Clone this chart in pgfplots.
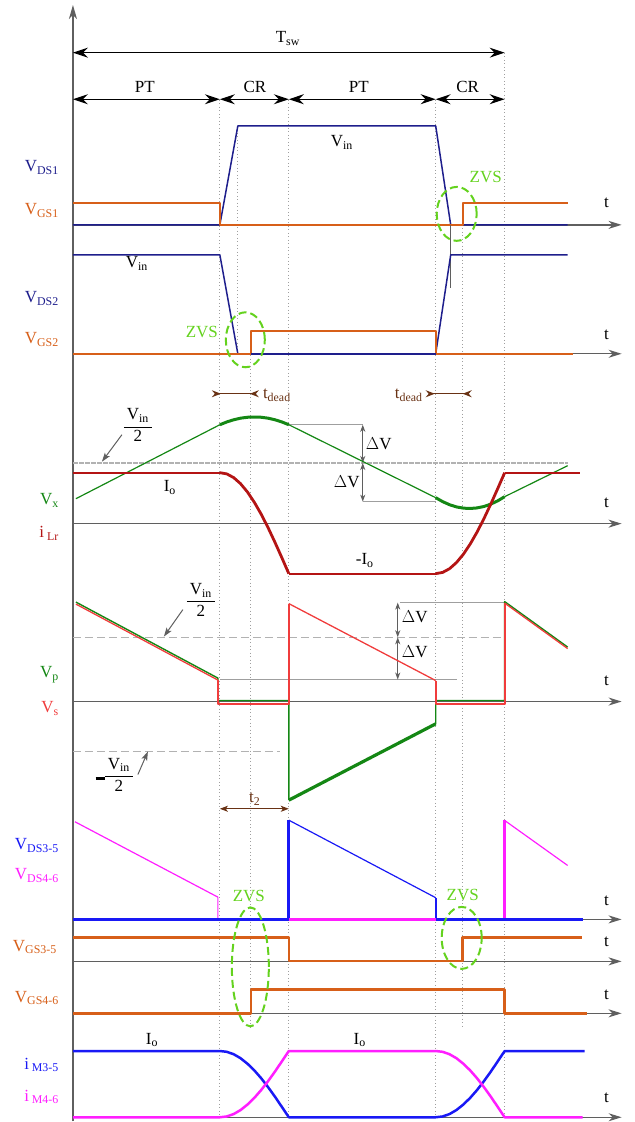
\documentclass[border=0pt]{standalone}
\usepackage{fontspec}
\setmainfont{Liberation Serif}
\usepackage{pgfplots}
\pgfplotsset{compat=1.18}
\usetikzlibrary{arrows.meta}

\definecolor{vds}{RGB}{30,30,140}
\definecolor{vgs}{RGB}{215,95,25}
\definecolor{ilr}{RGB}{180,20,20}
\definecolor{vx}{RGB}{20,135,20}
\definecolor{vs}{RGB}{240,60,60}
\definecolor{bl}{RGB}{25,25,245}
\definecolor{mg}{RGB}{255,30,255}
\definecolor{zvs}{RGB}{100,210,30}
\definecolor{brn}{RGB}{105,50,20}
\definecolor{ax}{RGB}{95,95,95}

\newcommand{\halfvin}{\begin{tabular}{@{\hspace{3pt}}c@{\hspace{3pt}}}V\textsubscript{in}\\[1pt]\hline\rule{0pt}{15pt}2\end{tabular}}

\tikzset{
  lab/.style={font=\fontsize{17}{20}\selectfont, inner sep=0pt},
  bigb/.style={{Stealth[length=15pt,width=10pt,inset=5pt]}-{Stealth[length=15pt,width=10pt,inset=5pt]}},
  axarr/.style={ax, line width=1.3pt, -{Stealth[length=13pt,width=8pt,inset=4pt]}},
  sm/.style={{Stealth[length=7pt,width=5pt,inset=2pt]}-{Stealth[length=7pt,width=5pt,inset=2pt]}},
  dots/.style={gray!75, line width=0.9pt, dash pattern=on 1pt off 2.5pt},
  ell/.style={zvs, line width=2pt, dash pattern=on 8pt off 4pt},
}

\begin{document}
\begin{tikzpicture}
\begin{axis}[
  width=635pt, height=1122pt, scale only axis,
  xmin=0, xmax=635, ymin=0, ymax=1122, y dir=reverse,
  hide axis, clip=false, no markers,
  every axis plot/.append style={line join=round},
]
% the drawing area
\path (rel axis cs:0,0) rectangle (rel axis cs:1,1);

% guide lines of the switching instants
\addplot[dots] coordinates {(220,100) (220,1118)};
\addplot[dots] coordinates {(238,126) (238,354)};
\addplot[dots] coordinates {(251,331) (251,1030)};
\addplot[dots] coordinates {(289,100) (289,1118)};
\addplot[dots] coordinates {(436,100) (436,1118)};
\addplot[dots] coordinates {(463,225) (463,1030)};
\addplot[dots] coordinates {(505,53) (505,1118)};

% time axes
\addplot[ax, line width=1.5pt, -{Stealth[length=14pt,width=8pt,inset=4pt]}] coordinates {(73,1122) (73,5)};
\addplot[axarr] coordinates {(73,225) (622,225)};
\addplot[axarr] coordinates {(73,354) (622,354)};
\addplot[axarr] coordinates {(73,524) (622,524)};
\addplot[axarr] coordinates {(73,702) (622,702)};
\addplot[axarr] coordinates {(73,920) (622,920)};
\addplot[axarr] coordinates {(73,962) (622,962)};
\addplot[axarr] coordinates {(73,1014) (622,1014)};
\addplot[axarr] coordinates {(73,1118) (622,1118)};

% switching period and intervals
\addplot[black, line width=1.2pt, bigb] coordinates {(73,52.7) (505,52.7)};
\addplot[black, line width=1.2pt, bigb] coordinates {(73,99.3) (220,99.3)};
\addplot[black, line width=1.2pt, bigb] coordinates {(220,99.3) (289,99.3)};
\addplot[black, line width=1.2pt, bigb] coordinates {(289,99.3) (436,99.3)};
\addplot[black, line width=1.2pt, bigb] coordinates {(436,99.3) (505,99.3)};
\node[lab, anchor=base] at (288,43) {T\textsubscript{sw}};
\node[lab, anchor=base] at (145,92.7) {PT};
\node[lab, anchor=base] at (255,92.7) {CR};
\node[lab, anchor=base] at (359,92.7) {PT};
\node[lab, anchor=base] at (468,92.7) {CR};

% ---- S1
\addplot[vds, line width=1.5pt] coordinates {(73,225) (220,225) (238,126) (436,126) (451,225) (568,225)};
\addplot[vgs, line width=2pt] coordinates {(73,203.3) (220,203.3) (220,225) (463,225) (463,203.3) (568,203.3)};
\addplot[ax, line width=0.9pt] coordinates {(451,225) (451,288)};
\node[lab, anchor=base east, text=vds] at (59,172) {V\textsubscript{DS1}};
\node[lab, anchor=base east, text=vgs] at (59,215) {V\textsubscript{GS1}};
\node[lab, anchor=base] at (342,146.7) {V\textsubscript{in}};
\node[lab, anchor=base, text=zvs] at (486,183) {ZVS};
\draw[ell] (axis cs:457,214) ellipse [x radius=20pt, y radius=27pt];
\node[lab, anchor=base] at (607,208) {t};

% ---- S2
\addplot[vds, line width=1.5pt] coordinates {(73,255) (220,255) (238,354) (436,354) (451,255) (568,255)};
\addplot[vgs, line width=2pt] coordinates {(73,354) (251,354) (251,331) (436,331) (436,354) (573,354)};
\addplot[vds, line width=1.5pt] coordinates {(251,354) (436,354)};
\node[lab, anchor=base east, text=vds] at (59,303) {V\textsubscript{DS2}};
\node[lab, anchor=base east, text=vgs] at (59,344) {V\textsubscript{GS2}};
\node[lab, anchor=base] at (137,268) {V\textsubscript{in}};
\node[lab, anchor=base, text=zvs] at (202,338) {ZVS};
\draw[ell] (axis cs:245.5,340) ellipse [x radius=19.5pt, y radius=27.5pt];
\node[lab, anchor=base] at (607,340) {t};

% dead times
\addplot[brn, line width=1.2pt, {Stealth[length=9pt,width=7pt,inset=3pt,reversed]}-{Stealth[length=9pt,width=7pt,inset=3pt,reversed]}] coordinates {(212,394) (259,394)};
\addplot[brn, line width=1.2pt, {Stealth[length=9pt,width=7pt,inset=3pt,reversed]}-{Stealth[length=9pt,width=7pt,inset=3pt,reversed]}] coordinates {(426,394) (472,394)};
\node[lab, anchor=base west, text=brn] at (263,399) {t\textsubscript{dead}};
\node[lab, anchor=base east, text=brn] at (423,399) {t\textsubscript{dead}};

% ---- Vx and iLr
\addplot[gray!60, line width=1.3pt, dash pattern=on 5pt off 1pt] coordinates {(73,463.3) (568,463.3)};
\addplot[gray!75, line width=1pt] coordinates {(289,425) (363,425)};
\addplot[gray!75, line width=1pt] coordinates {(363,502) (436,502)};
\addplot[ax, line width=1pt, sm] coordinates {(363,425) (363,463.3)};
\addplot[ax, line width=1pt, sm] coordinates {(363,463.3) (363,502)};
\node[lab, anchor=base] at (379,450) {$\Delta$V};
\node[lab, anchor=base] at (347,488) {$\Delta$V};
\addplot[ax, line width=1pt, -{Stealth[length=9pt,width=6pt,inset=2pt]}] coordinates {(122,435) (102,462)};
\node[lab, text=black] at (138,427) {\halfvin};

\addplot[vx, line width=1.2pt] coordinates {(76,499) (220,425)};
\addplot[vx, line width=3pt] coordinates {(220,425) (227,422.2) (234,420.0) (241,418.4) (248,417.5) (254.5,417.3) (261,417.5) (268,418.4) (275,420.0) (282,422.2) (289,425)};
\addplot[vx, line width=1.2pt] coordinates {(289,425) (436,498)};
\addplot[vx, line width=3pt] coordinates {(436,498) (443,502.0) (450,505.1) (457,507.3) (464,508.5) (470.5,508.8) (477,508.3) (484,506.9) (491,504.5) (498,501.2) (505,497)};
\addplot[vx, line width=1.2pt] coordinates {(505,497) (568,466)};

\addplot[ilr, line width=2pt] coordinates {(73,473) (220,473)};
\addplot[ilr, line width=2.8pt] coordinates {(220,473) (226.9,474.2) (233.8,477.9) (240.7,484.0) (247.6,492.3) (254.5,502.6) (261.4,514.6) (268.3,528.1) (275.2,542.8) (282.1,558.2) (289,574)};
\addplot[ilr, line width=2pt] coordinates {(289,574) (436,574)};
\addplot[ilr, line width=2.8pt] coordinates {(436,574) (442.9,572.8) (449.8,569.1) (456.7,563.0) (463.6,554.7) (470.5,544.4) (477.4,532.4) (484.3,518.9) (491.2,504.2) (498.1,488.8) (505,473)};
\addplot[ilr, line width=2pt] coordinates {(505,473) (580,473)};
\node[lab, anchor=base] at (170,492) {I\textsubscript{o}};
\node[lab, anchor=base] at (365,565) {-I\textsubscript{o}};
\node[lab, anchor=base east, text=vx] at (59,505) {V\textsubscript{x}};
\node[lab, anchor=base east, text=ilr] at (59,538) {i\,\textsubscript{Lr}};
\node[lab, anchor=base] at (607,508) {t};

% ---- Vp and Vs
\addplot[gray!60, line width=1.3pt, dash pattern=on 8pt off 4pt] coordinates {(73,637.7) (505,637.7)};
\addplot[gray!60, line width=1.3pt, dash pattern=on 8pt off 4pt] coordinates {(73,751.7) (280,751.7)};
\addplot[gray!75, line width=1pt] coordinates {(220,680) (457,680)};
\addplot[gray!75, line width=1pt] coordinates {(400,603) (505,603)};
\addplot[ax, line width=1pt, sm] coordinates {(398,603) (398,637.7)};
\addplot[ax, line width=1pt, sm] coordinates {(398,637.7) (398,680)};
\node[lab, anchor=base] at (415,623) {$\Delta$V};
\node[lab, anchor=base] at (415,658) {$\Delta$V};
\addplot[ax, line width=1pt, -{Stealth[length=9pt,width=6pt,inset=2pt]}] coordinates {(183,610) (164,637)};
\node[lab] at (201,602) {\halfvin};
\addplot[ax, line width=1pt, -{Stealth[length=9pt,width=6pt,inset=2pt]}] coordinates {(138,775) (148,752)};
\node[lab, anchor=east] at (105,779) {\rule{9pt}{2.2pt}};
\node[lab] at (119,777) {\halfvin};

\addplot[vx, line width=1.4pt] coordinates {(76,602.5) (218,678.5) (218,701) (289,701) (289,800.7)};
\addplot[vx, line width=3.2pt] coordinates {(289,800.7) (436,724.3)};
\addplot[vx, line width=1.4pt] coordinates {(436,724.3) (436,701) (505,701) (505,602) (568,647.5)};
\addplot[vs, line width=1.3pt] coordinates {(76,604.5) (218,680.5)};
\addplot[vs, line width=2pt] coordinates {(218,680.5) (218,704) (289,704) (289,604)};
\addplot[vs, line width=1.3pt] coordinates {(289,604) (436,681)};
\addplot[vs, line width=2pt] coordinates {(436,681) (436,704) (505,704) (505,603.5)};
\addplot[vs, line width=1.3pt] coordinates {(505,603.5) (568,649)};
\node[lab, anchor=base east, text=vx] at (59,678) {V\textsubscript{p}};
\node[lab, anchor=base east, text=vs] at (59,713) {V\textsubscript{s}};
\node[lab, anchor=base] at (607,686) {t};

\addplot[brn, line width=1.2pt, {Stealth[length=8pt,width=6pt,inset=2pt]}-{Stealth[length=8pt,width=6pt,inset=2pt]}] coordinates {(220,809.3) (289,809.3)};
\node[lab, anchor=base, text=brn] at (255,803) {t\textsubscript{2}};

% ---- drain-source voltages of the rectifier switches
\addplot[mg, line width=1.2pt] coordinates {(75,822.3) (218,897.7) (218,920)};
\addplot[mg, line width=3pt] coordinates {(218,920) (505,920) (505,821)};
\addplot[mg, line width=1.2pt] coordinates {(505,821) (568,866)};
\addplot[bl, line width=3pt] coordinates {(73,920) (289,920) (289,820.7)};
\addplot[bl, line width=1.2pt] coordinates {(289,820.7) (436,898.3)};
\addplot[bl, line width=2pt] coordinates {(436,898.3) (436,920)};
\addplot[mg, line width=3pt] coordinates {(289,920) (436,920)};
\addplot[bl, line width=3pt] coordinates {(436,920) (583,920)};
\node[lab, anchor=base east, text=bl] at (59,850) {V\textsubscript{DS3-5}};
\node[lab, anchor=base east, text=mg] at (59,880) {V\textsubscript{DS4-6}};
\node[lab, anchor=base] at (607,906) {t};
\node[lab, anchor=base, text=zvs] at (249,901.7) {ZVS};
\node[lab, anchor=base, text=zvs] at (463,900.7) {ZVS};

% ---- gate signals of the rectifier switches
\addplot[vgs, line width=2.5pt] coordinates {(73,938.3) (289,938.3) (289,961.7) (463,961.7) (463,938.3) (582,938.3)};
\addplot[vgs, line width=2.5pt] coordinates {(73,1014) (251,1014) (251,990) (505,990) (505,1014) (587,1014)};
\node[lab, anchor=base east, text=vgs] at (57,952) {V\textsubscript{GS3-5}};
\node[lab, anchor=base east, text=vgs] at (59,1003) {V\textsubscript{GS4-6}};
\node[lab, anchor=base] at (607,947) {t};
\node[lab, anchor=base] at (607,1000) {t};
\draw[ell] (axis cs:250.5,967.5) ellipse [x radius=18.5pt, y radius=59.5pt];
\draw[ell] (axis cs:462,938.5) ellipse [x radius=20pt, y radius=31pt];

% ---- switch currents
\addplot[bl, line width=2.5pt] coordinates {(73,1051.7) (220,1051.7) (226.9,1052.5) (233.8,1054.9) (240.7,1058.9) (247.6,1064.4) (254.5,1071.1) (261.4,1079.0) (268.3,1087.9) (275.2,1097.5) (282.1,1107.7) (289,1118) (436,1118) (442.9,1117.2) (449.8,1114.8) (456.7,1110.8) (463.6,1105.3) (470.5,1098.6) (477.4,1090.7) (484.3,1081.8) (491.2,1072.2) (498.1,1062.0) (505,1051.7) (585,1051.7)};
\addplot[mg, line width=2.5pt] coordinates {(73,1118) (220,1118) (226.9,1117.2) (233.8,1114.8) (240.7,1110.8) (247.6,1105.3) (254.5,1098.6) (261.4,1090.7) (268.3,1081.8) (275.2,1072.2) (282.1,1062.0) (289,1051.7) (436,1051.7) (442.9,1052.5) (449.8,1054.9) (456.7,1058.9) (463.6,1064.4) (470.5,1071.1) (477.4,1079.0) (484.3,1087.9) (491.2,1097.5) (498.1,1107.7) (505,1118) (583,1118)};
\node[lab, anchor=base] at (152,1045) {I\textsubscript{o}};
\node[lab, anchor=base] at (360,1045) {I\textsubscript{o}};
\node[lab, anchor=base east, text=bl] at (59,1070) {i\,\textsubscript{M3-5}};
\node[lab, anchor=base east, text=mg] at (59,1102) {i\,\textsubscript{M4-6}};
\node[lab, anchor=base] at (607,1103) {t};
\end{axis}
\end{tikzpicture}
\end{document}
